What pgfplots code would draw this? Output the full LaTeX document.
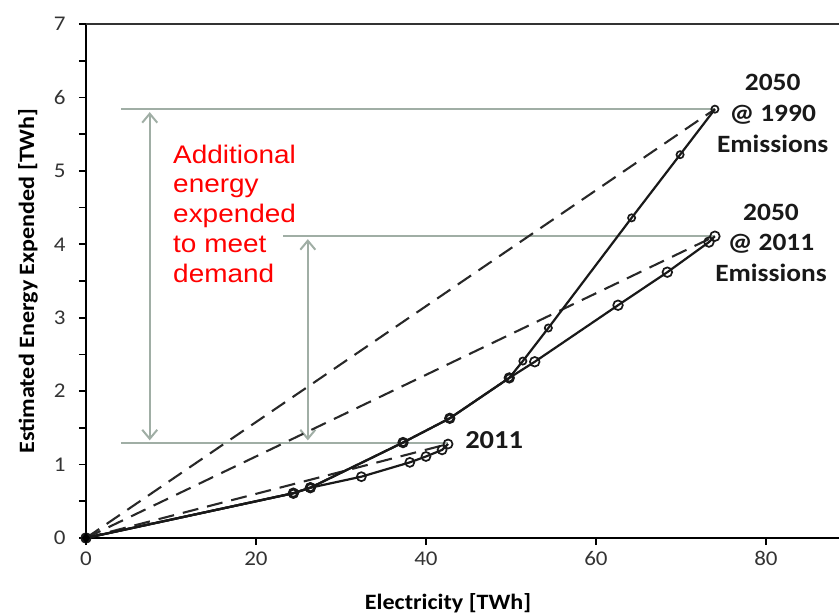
\documentclass[border=0pt]{standalone}
\usepackage{pgfplots}
\pgfplotsset{compat=1.18}
\usepackage{fontspec}
\setmainfont[FakeStretch=1.1]{Carlito}
\newfontfamily\notefont[FakeStretch=1.1]{Liberation Sans}
\usetikzlibrary{arrows.meta}

\definecolor{guide}{RGB}{160,174,165}
\definecolor{dashgray}{RGB}{40,40,40}

% Electricity [TWh] vs. estimated energy expended [TWh]
\pgfplotstableread{
x     y
0     0
24.4  0.61
26.4  0.685
32.4  0.835
38.1  1.03
40.0  1.11
41.9  1.20
42.6  1.28
}\yrtwentyeleven

\pgfplotstableread{
x     y
0     0
24.4  0.61
26.4  0.685
37.3  1.30
42.8  1.63
49.8  2.18
52.8  2.40
62.6  3.17
68.4  3.62
73.3  4.03
74.0  4.11
}\twentyfiftyA

\pgfplotstableread{
x     y
0     0
24.4  0.61
26.4  0.685
37.3  1.30
42.8  1.63
49.8  2.18
51.4  2.41
54.4  2.86
64.2  4.36
69.9  5.22
74.0  5.84
}\twentyfiftyB

\begin{document}
\begin{tikzpicture}
\begin{axis}[
  at={(0,0)}, anchor=south west,
  scale only axis,
  width=753bp, height=514bp,
  xmin=0, xmax=88.6, ymin=0, ymax=7,
  axis x line*=bottom, axis y line*=left,
  axis line style={line width=2.4bp, black},
  xtick={0,20,40,60,80},
  ytick={0,1,...,7},
  minor y tick num=1,
  tick align=outside,
  major tick length=7bp, minor tick length=7bp,
  every tick/.style={black, line width=1.6bp},
  /pgf/number format/assume math mode=true,
  tick label style={font=\fontsize{21}{21}\selectfont, text=black!80},
  xticklabel style={yshift=-3bp},
  yticklabel style={xshift=-10bp},
  every axis x label/.style={at={(axis cs:42.6,0)}, yshift=-65bp, anchor=center},
  every axis y label/.style={at={(axis description cs:0,0.5)}, xshift=-58bp, rotate=90, anchor=center},
  xlabel={\bfseries Electricity [TWh]},
  ylabel={\bfseries Estimated Energy Expended [TWh]},
  label style={font=\fontsize{22}{22}\selectfont},
  clip mode=individual,
]
% guide lines and arrows
\draw[guide, line width=2bp] (axis cs:4.1,5.84) -- (axis cs:74.0,5.84);
\draw[guide, line width=2bp] (axis cs:23.2,4.11) -- (axis cs:74.0,4.11);
\draw[guide, line width=2bp] (axis cs:4.1,1.29) -- (axis cs:42.6,1.29);
\draw[guide, line width=2bp, {Straight Barb[length=9bp,width=15bp,line width=2bp]}-{Straight Barb[length=9bp,width=15bp,line width=2bp]}]
  (axis cs:7.5,5.80) -- (axis cs:7.5,1.33);
\draw[guide, line width=2bp, {Straight Barb[length=9bp,width=15bp,line width=2bp]}-{Straight Barb[length=9bp,width=15bp,line width=2bp]}]
  (axis cs:26.1,4.07) -- (axis cs:26.1,1.33);

% straight reference lines from the origin
\addplot[dashgray, line width=2.1bp, dash pattern=on 16bp off 9bp] coordinates {(0,0) (74.0,5.84)};
\addplot[dashgray, line width=2.1bp, dash pattern=on 16bp off 9bp] coordinates {(0,0) (74.0,4.11)};
\addplot[dashgray, line width=2.1bp, dash pattern=on 16bp off 9bp] coordinates {(0,0) (42.6,1.28)};

% scenario curves
\addplot[black!90, line width=2.2bp, mark=o, mark size=4.5bp, mark options={solid, line width=1.7bp}] table[x=x,y=y] {\yrtwentyeleven};
\addplot[black!90, line width=2.2bp, mark=o, mark size=4.8bp, mark options={solid, line width=1.7bp}] table[x=x,y=y] {\twentyfiftyA};
\addplot[black!90, line width=2.2bp, mark=o, mark size=3.6bp, mark options={solid, line width=1.7bp}] table[x=x,y=y] {\twentyfiftyB};
% heavy marker at the common origin
\addplot[only marks, black, mark=diamond*, mark size=5bp] coordinates {(0,0)};

% labels
\node[align=center, font=\bfseries\fontsize{25}{31}\selectfont, text=black!90] at (axis cs:80.8,5.78) {2050\\@ 1990\\Emissions};
\node[align=center, font=\bfseries\fontsize{25}{31}\selectfont, text=black!90] at (axis cs:80.6,4.02) {2050\\@ 2011\\Emissions};
\node[anchor=west, font=\bfseries\fontsize{26}{26}\selectfont, text=black!90, inner sep=0pt] at (axis cs:44.6,1.34) {2011};
\node[anchor=north west, align=left, inner sep=0pt, text=red, font=\notefont\fontsize{25.5}{30}\selectfont] at (axis cs:10.24,5.36)
  {Additional\\energy\\expended\\to meet\\demand};
\end{axis}
% top frame line
\draw[black!80, line width=1.6bp] (0,514bp) -- (753bp,514bp);
\pgfresetboundingbox
\path[use as bounding box] (-86bp,-76bp) rectangle (753bp,538bp);
\end{tikzpicture}
\end{document}
